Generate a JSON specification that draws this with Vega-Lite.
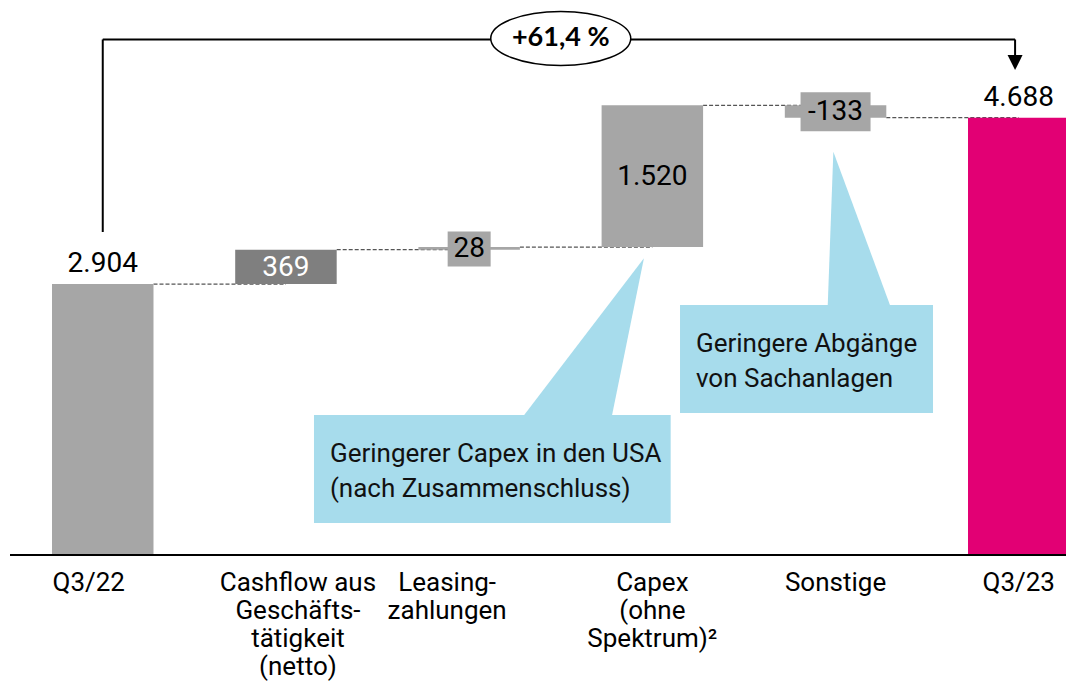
{
  "$schema": "https://vega.github.io/schema/vega-lite/v6.json",
  "width": 1056,
  "height": 555,
  "autosize": {"type": "none"},
  "padding": {"left": 10, "top": 0, "right": 0, "bottom": 145},
  "background": "white",
  "config": {"view": {"stroke": null}, "font": "Roboto"},
  "datasets": {
    "steps": [
      {"cat": "Q3/22", "start": 0, "end": 2904, "label": "2.904"},
      {"cat": "Cashflow aus|Geschäfts-|tätigkeit|(netto)", "start": 2904, "end": 3273, "label": "369"},
      {"cat": "Leasing-|zahlungen", "start": 3273, "end": 3301, "label": "28"},
      {"cat": "Capex|(ohne|Spektrum)²", "start": 3301, "end": 4821, "label": "1.520"},
      {"cat": "Sonstige", "start": 4821, "end": 4688, "label": "-133"},
      {"cat": "Q3/23", "start": 0, "end": 4688, "label": "4.688"}
    ],
    "links": [
      {"from": "Q3/22", "to": "Cashflow aus|Geschäfts-|tätigkeit|(netto)", "level": 2904},
      {"from": "Cashflow aus|Geschäfts-|tätigkeit|(netto)", "to": "Leasing-|zahlungen", "level": 3273},
      {"from": "Leasing-|zahlungen", "to": "Capex|(ohne|Spektrum)²", "level": 3301},
      {"from": "Capex|(ohne|Spektrum)²", "to": "Sonstige", "level": 4821},
      {"from": "Sonstige", "to": "Q3/23", "level": 4688}
    ],
    "boxes": [
      {"x": 1.153, "x2": 3.100, "y": 1501, "y2": 343},
      {"x": 3.151, "x2": 4.532, "y": 2680, "y2": 1522}
    ],
    "pointers": [
      {"id": 1, "y": 1480, "x": 2.292, "x2": 2.778},
      {"id": 1, "y": 3181, "x": 2.954, "x2": 2.954},
      {"id": 2, "y": 2660, "x": 3.957, "x2": 4.301},
      {"id": 2, "y": 4324, "x": 3.988, "x2": 3.988}
    ],
    "notes": [
      {"x": 1.240, "y": 1000, "text": "Geringerer Capex in den USA|(nach Zusammenschluss)"},
      {"x": 3.238, "y": 2180, "text": "Geringere Abgänge|von Sachanlagen"}
    ],
    "bracket": [
      {"x": 0, "y": 3463, "x2": 0, "y2": 5527},
      {"x": 0, "y": 5527, "x2": 4.98, "y2": 5527},
      {"x": 4.98, "y": 5527, "x2": 4.98, "y2": 5300}
    ],
    "arrow": [{"x": 4.98, "y": 5280}],
    "change": [{"x": 2.5, "y": 5538, "text": "+61,4 %"}]
  },
  "layer": [
    {
      "data": {"name": "links"},
      "mark": {"type": "rule", "strokeDash": [4, 2], "color": "#555555", "strokeWidth": 1.2},
      "encoding": {
        "x": {"field": "from", "type": "nominal", "bandPosition": 1, "axis": null,
          "scale": {"type": "band", "domain": ["Q3/22", "Cashflow aus|Geschäfts-|tätigkeit|(netto)", "Leasing-|zahlungen", "Capex|(ohne|Spektrum)²", "Sonstige", "Q3/23"], "range": [42, 1059.5], "paddingInner": 0.446, "paddingOuter": 0}},
        "x2": {"field": "to"},
        "y": {"field": "level", "type": "quantitative", "scale": {"domain": [0, 5950], "nice": false, "zero": true}, "axis": null}
      }
    },
    {
      "data": {"name": "steps"},
      "mark": {"type": "bar"},
      "encoding": {
        "x": {"field": "cat", "type": "nominal", "sort": null,
          "scale": {"type": "band", "domain": ["Q3/22", "Cashflow aus|Geschäfts-|tätigkeit|(netto)", "Leasing-|zahlungen", "Capex|(ohne|Spektrum)²", "Sonstige", "Q3/23"], "range": [42, 1059.5], "paddingInner": 0.446, "paddingOuter": 0},
          "axis": {
            "title": null, "domain": false, "ticks": false, "grid": false,
            "labelExpr": "split(datum.value, '|')",
            "labelFont": "Roboto", "labelFontSize": 26, "labelColor": "#000000",
            "labelLineHeight": 28, "labelPadding": 14, "labelAngle": 0,
            "labelOverlap": false, "labelLimit": 0, "labelBound": false,
            "labelOffset": {"condition": [
              {"test": "datum.value === 'Q3/22'", "value": -14},
              {"test": "datum.value === 'Leasing-|zahlungen'", "value": -22},
              {"test": "indexof(datum.value, 'Cashflow') === 0", "value": 12}
            ], "value": 0}
          }},
        "y": {"field": "start", "type": "quantitative", "axis": null},
        "y2": {"field": "end"},
        "color": {"field": "cat", "type": "nominal",
          "scale": {"domain": ["Q3/22", "Cashflow aus|Geschäfts-|tätigkeit|(netto)", "Leasing-|zahlungen", "Capex|(ohne|Spektrum)²", "Sonstige", "Q3/23"], "range": ["#a6a6a6", "#7f7f7f", "#a6a6a6", "#a6a6a6", "#a6a6a6", "#e20074"]},
          "legend": null}
      }
    },
    {
      "data": {"values": [{"base": 0}]},
      "mark": {"type": "rule", "color": "#000000", "strokeWidth": 2},
      "encoding": {"y": {"field": "base", "type": "quantitative", "axis": null}}
    },
    {
      "data": {"name": "steps"},
      "transform": [{"filter": "datum.cat === 'Leasing-|zahlungen'"}],
      "mark": {"type": "tick", "color": "#a6a6a6", "opacity": 1, "size": 43, "thickness": 35, "yOffset": 2},
      "encoding": {
        "x": {"field": "cat", "type": "nominal", "axis": null,
          "scale": {"type": "band", "domain": ["Q3/22", "Cashflow aus|Geschäfts-|tätigkeit|(netto)", "Leasing-|zahlungen", "Capex|(ohne|Spektrum)²", "Sonstige", "Q3/23"], "range": [42, 1059.5], "paddingInner": 0.446, "paddingOuter": 0}},
        "y": {"field": "end", "type": "quantitative", "axis": null}
      }
    },
    {
      "data": {"name": "steps"},
      "transform": [{"filter": "datum.cat === 'Sonstige'"}],
      "mark": {"type": "tick", "color": "#a6a6a6", "opacity": 1, "size": 70, "thickness": 39, "yOffset": -6},
      "encoding": {
        "x": {"field": "cat", "type": "nominal", "axis": null,
          "scale": {"type": "band", "domain": ["Q3/22", "Cashflow aus|Geschäfts-|tätigkeit|(netto)", "Leasing-|zahlungen", "Capex|(ohne|Spektrum)²", "Sonstige", "Q3/23"], "range": [42, 1059.5], "paddingInner": 0.446, "paddingOuter": 0}},
        "y": {"field": "end", "type": "quantitative", "axis": null}
      }
    },
    {
      "data": {"name": "steps"},
      "transform": [{"filter": "datum.cat === 'Q3/22' || datum.cat === 'Q3/23'"}],
      "mark": {"type": "text", "fontSize": 28, "font": "Roboto", "color": "#000000", "baseline": "alphabetic", "align": "center", "dy": -12},
      "encoding": {
        "x": {"field": "cat", "type": "nominal", "axis": null,
          "scale": {"type": "band", "domain": ["Q3/22", "Cashflow aus|Geschäfts-|tätigkeit|(netto)", "Leasing-|zahlungen", "Capex|(ohne|Spektrum)²", "Sonstige", "Q3/23"], "range": [42, 1059.5], "paddingInner": 0.446, "paddingOuter": 0}},
        "y": {"field": "end", "type": "quantitative", "axis": null},
        "text": {"field": "label"}
      }
    },
    {
      "data": {"name": "steps"},
      "transform": [{"filter": "indexof(datum.cat, 'Cashflow') === 0"}],
      "mark": {"type": "text", "fontSize": 28, "font": "Roboto", "color": "#ffffff", "baseline": "middle", "align": "center", "dy": 18},
      "encoding": {
        "x": {"field": "cat", "type": "nominal", "axis": null,
          "scale": {"type": "band", "domain": ["Q3/22", "Cashflow aus|Geschäfts-|tätigkeit|(netto)", "Leasing-|zahlungen", "Capex|(ohne|Spektrum)²", "Sonstige", "Q3/23"], "range": [42, 1059.5], "paddingInner": 0.446, "paddingOuter": 0}},
        "y": {"field": "end", "type": "quantitative", "axis": null},
        "text": {"field": "label"}
      }
    },
    {
      "data": {"name": "steps"},
      "transform": [{"filter": "datum.cat === 'Leasing-|zahlungen'"}],
      "mark": {"type": "text", "fontSize": 28, "font": "Roboto", "color": "#000000", "baseline": "middle", "align": "center", "dy": 2},
      "encoding": {
        "x": {"field": "cat", "type": "nominal", "axis": null,
          "scale": {"type": "band", "domain": ["Q3/22", "Cashflow aus|Geschäfts-|tätigkeit|(netto)", "Leasing-|zahlungen", "Capex|(ohne|Spektrum)²", "Sonstige", "Q3/23"], "range": [42, 1059.5], "paddingInner": 0.446, "paddingOuter": 0}},
        "y": {"field": "end", "type": "quantitative", "axis": null},
        "text": {"field": "label"}
      }
    },
    {
      "data": {"name": "steps"},
      "transform": [{"filter": "indexof(datum.cat, 'Capex') === 0"}],
      "mark": {"type": "text", "fontSize": 28, "font": "Roboto", "color": "#000000", "baseline": "middle", "align": "center", "dy": 72},
      "encoding": {
        "x": {"field": "cat", "type": "nominal", "axis": null,
          "scale": {"type": "band", "domain": ["Q3/22", "Cashflow aus|Geschäfts-|tätigkeit|(netto)", "Leasing-|zahlungen", "Capex|(ohne|Spektrum)²", "Sonstige", "Q3/23"], "range": [42, 1059.5], "paddingInner": 0.446, "paddingOuter": 0}},
        "y": {"field": "end", "type": "quantitative", "axis": null},
        "text": {"field": "label"}
      }
    },
    {
      "data": {"name": "steps"},
      "transform": [{"filter": "datum.cat === 'Sonstige'"}],
      "mark": {"type": "text", "fontSize": 28, "font": "Roboto", "color": "#000000", "baseline": "middle", "align": "center", "dy": -6},
      "encoding": {
        "x": {"field": "cat", "type": "nominal", "axis": null,
          "scale": {"type": "band", "domain": ["Q3/22", "Cashflow aus|Geschäfts-|tätigkeit|(netto)", "Leasing-|zahlungen", "Capex|(ohne|Spektrum)²", "Sonstige", "Q3/23"], "range": [42, 1059.5], "paddingInner": 0.446, "paddingOuter": 0}},
        "y": {"field": "end", "type": "quantitative", "axis": null},
        "text": {"field": "label"}
      }
    },
    {
      "data": {"name": "pointers"},
      "mark": {"type": "area", "orient": "horizontal", "color": "#a7dcec", "opacity": 1},
      "encoding": {
        "y": {"field": "y", "type": "quantitative", "axis": null},
        "x": {"field": "x", "type": "quantitative", "scale": {"domain": [0, 5], "range": [92.75, 1008.75], "nice": false, "zero": false}, "axis": null},
        "x2": {"field": "x2"},
        "detail": {"field": "id", "type": "nominal"}
      }
    },
    {
      "data": {"name": "boxes"},
      "mark": {"type": "rect", "color": "#a7dcec"},
      "encoding": {
        "x": {"field": "x", "type": "quantitative", "scale": {"domain": [0, 5], "range": [92.75, 1008.75], "nice": false, "zero": false}, "axis": null},
        "x2": {"field": "x2"},
        "y": {"field": "y", "type": "quantitative", "axis": null},
        "y2": {"field": "y2"}
      }
    },
    {
      "data": {"name": "notes"},
      "mark": {"type": "text", "font": "Roboto", "fontSize": 26, "color": "#111111", "align": "left", "baseline": "alphabetic", "lineBreak": "|", "lineHeight": 35},
      "encoding": {
        "x": {"field": "x", "type": "quantitative", "scale": {"domain": [0, 5], "range": [92.75, 1008.75], "nice": false, "zero": false}, "axis": null},
        "y": {"field": "y", "type": "quantitative", "axis": null},
        "text": {"field": "text"}
      }
    },
    {
      "data": {"name": "bracket"},
      "mark": {"type": "rule", "color": "#000000", "strokeWidth": 2},
      "encoding": {
        "x": {"field": "x", "type": "quantitative", "scale": {"domain": [0, 5], "range": [92.75, 1008.75], "nice": false, "zero": false}, "axis": null},
        "x2": {"field": "x2"},
        "y": {"field": "y", "type": "quantitative", "axis": null},
        "y2": {"field": "y2"}
      }
    },
    {
      "data": {"name": "arrow"},
      "mark": {"type": "point", "shape": "M -1 -1 L 1 -1 L 0 1 Z", "size": 225, "filled": true, "color": "#000000", "opacity": 1},
      "encoding": {
        "x": {"field": "x", "type": "quantitative", "scale": {"domain": [0, 5], "range": [92.75, 1008.75], "nice": false, "zero": false}, "axis": null},
        "y": {"field": "y", "type": "quantitative", "axis": null}
      }
    },
    {
      "data": {"name": "change"},
      "mark": {"type": "point", "shape": "M -1 0 C -1 -0.213 -0.552 -0.386 0 -0.386 C 0.552 -0.386 1 -0.213 1 0 C 1 0.213 0.552 0.386 0 0.386 C -0.552 0.386 -1 0.213 -1 0 Z", "size": 19600, "filled": true, "fill": "#ffffff", "stroke": "#000000", "strokeWidth": 1.5, "opacity": 1},
      "encoding": {
        "x": {"field": "x", "type": "quantitative", "scale": {"domain": [0, 5], "range": [92.75, 1008.75], "nice": false, "zero": false}, "axis": null},
        "y": {"field": "y", "type": "quantitative", "axis": null}
      }
    },
    {
      "data": {"name": "change"},
      "mark": {"type": "text", "font": "Lato", "fontWeight": "bold", "fontSize": 27, "color": "#000000", "align": "center", "baseline": "middle"},
      "encoding": {
        "x": {"field": "x", "type": "quantitative", "scale": {"domain": [0, 5], "range": [92.75, 1008.75], "nice": false, "zero": false}, "axis": null},
        "y": {"field": "y", "type": "quantitative", "axis": null},
        "text": {"field": "text"}
      }
    }
  ],
  "resolve": {"scale": {"x": "independent"}}
}
